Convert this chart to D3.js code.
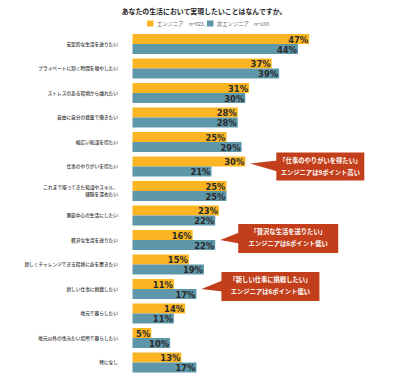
<!DOCTYPE html>
<html>
<head>
<meta charset="utf-8">
<script src="https://cdn.jsdelivr.net/npm/d3@7"></script>
<style>
  html, body { margin: 0; padding: 0; background: #fff; }
  svg { display: block; }
</style>
</head>
<body>
<div id="chart"></div>
<script>
(function (d3) {
    'use strict';

    // data
    var categories = [
        "安定的な生活を送りたい",
        "プライベートに割く時間を増やしたい",
        "ストレスのある環境から離れたい",
        "自由に自分の裁量で働きたい",
        "幅広い知識を得たい",
        "仕事のやりがいを得たい",
        "これまで培ってきた知識やスキル、\n経験を深めたい",
        "家庭中心の生活にしたい",
        "贅沢な生活を送りたい",
        "新しくチャレンジできる環境に身を置きたい",
        "新しい仕事に挑戦したい",
        "地元で暮らしたい",
        "地元以外の住みたい場所で暮らしたい",
        "特になし"
    ];
    var engineer = [47, 37, 31, 28, 25, 30, 25, 23, 16, 15, 11, 14, 5, 13];
    var nonEngineer = [44, 39, 30, 28, 29, 21, 25, 22, 22, 19, 17, 11, 10, 17];
    var seriesNames = ["エンジニア　n=923、", "非エンジニア　n=100"];
    var title = "あなたの生活において実現したいことはなんですか。";
    var calloutRows = [5, 8, 10];
    var calloutLines = [
        ["「仕事のやりがいを得たい」", "エンジニアは9ポイント高い"],
        ["「贅沢な生活を送りたい」", "エンジニアは6ポイント低い"],
        ["「新しい仕事に挑戦したい」", "エンジニアは6ポイント低い"]
    ];

    var svgWidth = 400;
    var svgHeight = 382;
    var colors = ["#fbb523", "#5e96aa"];
    var calloutColor = "#c33f1c";
    var jp = "'Noto Sans CJK JP', 'Noto Sans', sans-serif";
    var num = "'Liberation Sans Narrow', 'DejaVu Sans Condensed', 'Roboto Condensed', sans-serif";

    var svg = d3.select("#chart")
        .append("svg")
        .attr("width", svgWidth)
        .attr("height", svgHeight);

    // scales
    var x = d3.scaleLinear()
        .domain([0, 50])
        .range([132.5, 320.5]);

    var y = d3.scaleBand()
        .domain(categories)
        .range([31.75, 374.75])
        .paddingInner(0.184)
        .paddingOuter(0.092);

    var sub = d3.scaleBand()
        .domain([0, 1])
        .range([0, y.bandwidth()]);

    var rows = categories.map(function (c, i) {
        return { cat: c, values: [engineer[i], nonEngineer[i]] };
    });

    // title
    svg.append("text")
        .attr("x", 204)
        .attr("y", 14)
        .attr("text-anchor", "middle")
        .attr("font-family", jp)
        .attr("font-weight", 700)
        .attr("font-size", 6.9)
        .attr("fill", "#222")
        .text(title);

    // legend
    var legend = svg.append("g");
    var legendX = [147, 207];
    seriesNames.forEach(function (name, i) {
        legend.append("rect")
            .attr("x", legendX[i])
            .attr("y", 20.5)
            .attr("width", 6.5)
            .attr("height", 6)
            .attr("fill", colors[i]);
        legend.append("text")
            .attr("x", legendX[i] + 10)
            .attr("y", 25.8)
            .attr("font-family", jp)
            .attr("font-size", 5.3)
            .attr("fill", "#666")
            .text(name);
    });

    // category labels
    var labels = svg.append("g")
        .attr("font-family", jp)
        .attr("font-size", 4.7)
        .attr("font-weight", 500)
        .attr("fill", "#333")
        .attr("text-anchor", "end");

    labels.selectAll("text")
        .data(categories)
        .enter()
        .append("text")
        .each(function (d) {
            var parts = d.split("\n");
            var cy = y(d) + y.bandwidth() / 2;
            var t = d3.select(this);
            parts.forEach(function (p, k) {
                t.append("tspan")
                    .attr("x", 118)
                    .attr("y", cy + 1.7 + (k - (parts.length - 1) / 2) * 7)
                    .text(p);
            });
        });

    // bars
    var groups = svg.selectAll(".grp")
        .data(rows)
        .enter()
        .append("g")
        .attr("class", "grp")
        .attr("transform", function (d) { return "translate(0," + y(d.cat) + ")"; });

    groups.selectAll("rect")
        .data(function (d) { return d.values; })
        .enter()
        .append("rect")
        .attr("x", x(0))
        .attr("y", function (d, i) { return sub(i); })
        .attr("width", function (d) { return x(d) - x(0); })
        .attr("height", sub.bandwidth())
        .attr("fill", function (d, i) { return colors[i]; });

    groups.selectAll("text")
        .data(function (d) { return d.values; })
        .enter()
        .append("text")
        .attr("x", function (d) { return x(d) - 1; })
        .attr("y", function (d, i) { return sub(i) + sub.bandwidth() - 1.3; })
        .attr("text-anchor", "end")
        .attr("font-family", num)
        .attr("font-weight", 700)
        .attr("font-size", 9.3)
        .attr("fill", "#2a2a2a")
        .text(function (d) { return d + "%"; });

    // callouts
    var boxLayout = [
        { dx: 26, w: 88, h: 28, dy: -11 },
        { dx: 18, w: 100, h: 29, dy: -16 },
        { dx: 20, w: 98, h: 29, dy: -17 }
    ];
    calloutRows.forEach(function (r, i) {
        var tipX = x(Math.max(engineer[r], nonEngineer[r])) + 5;
        var tipY = y(categories[r]) + y.bandwidth() / 2 - (i === 0 ? 3 : 0);
        var b = boxLayout[i];
        var bx = tipX + b.dx;
        var by = tipY + b.dy;
        var mid = by + b.h / 2;
        var g = svg.append("g");
        g.append("path")
            .attr("d", "M" + tipX + "," + tipY + "L" + (bx + 1) + "," + (mid - 6) +
                "L" + (bx + 1) + "," + (mid + 5) + "Z")
            .attr("fill", calloutColor);
        g.append("rect")
            .attr("x", bx)
            .attr("y", by)
            .attr("width", b.w)
            .attr("height", b.h)
            .attr("fill", calloutColor);
        calloutLines[i].forEach(function (line, k) {
            g.append("text")
                .attr("x", bx + b.w / 2)
                .attr("y", by + 10 + k * 12)
                .attr("text-anchor", "middle")
                .attr("font-family", jp)
                .attr("font-weight", 700)
                .attr("font-size", 6.3)
                .attr("fill", "#fff")
                .text(line);
        });
    });
})(window.d3);
</script>
</body>
</html>
